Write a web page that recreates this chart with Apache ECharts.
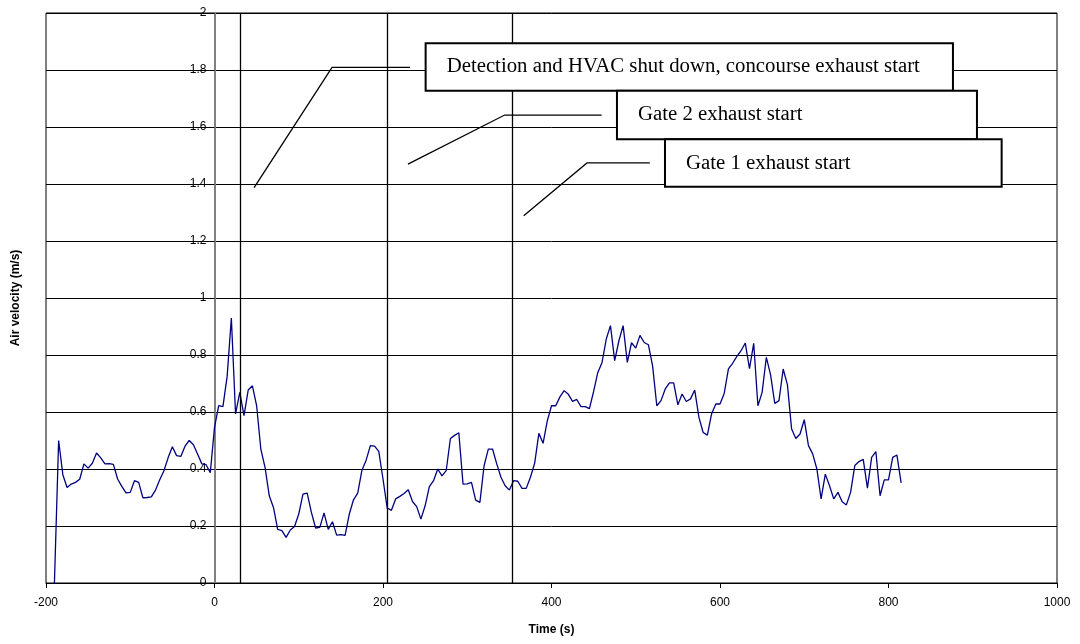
<!DOCTYPE html>
<html>
<head>
<meta charset="utf-8">
<title>Air velocity</title>
<script src="https://cdn.jsdelivr.net/npm/echarts@6/dist/echarts.min.js"></script>
<style>
  html, body { margin: 0; padding: 0; background: #fff; }
  #chart { width: 1080px; height: 644px; }
</style>
</head>
<body>
<div id="chart"></div>
<script>
// Measurement times (s), relative to the detection reference
const times = [
  -190, -185, -180, -175, -170, -165, -160, -155, -150, -145, -140, -135, -130, -125, -120, -115, -110, -105, -100, -95,
  -90, -85, -80, -75, -70, -65, -60, -55, -50, -45, -40, -35, -30, -25, -20, -15, -10, -5, 0, 5,
  10, 15, 20, 25, 30, 35, 40, 45, 50, 55, 60, 65, 70, 75, 80, 85, 90, 95, 100, 105,
  110, 115, 120, 125, 130, 135, 140, 145, 150, 155, 160, 165, 170, 175, 180, 185, 190, 195, 200, 205,
  210, 215, 220, 225, 230, 235, 240, 245, 250, 255, 260, 265, 270, 275, 280, 285, 290, 295, 300, 305,
  310, 315, 320, 325, 330, 335, 340, 345, 350, 355, 360, 365, 370, 375, 380, 385, 390, 395, 400, 405,
  410, 415, 420, 425, 430, 435, 440, 445, 450, 455, 460, 465, 470, 475, 480, 485, 490, 495, 500, 505,
  510, 515, 520, 525, 530, 535, 540, 545, 550, 555, 560, 565, 570, 575, 580, 585, 590, 595, 600, 605,
  610, 615, 620, 625, 630, 635, 640, 645, 650, 655, 660, 665, 670, 675, 680, 685, 690, 695, 700, 705,
  710, 715, 720, 725, 730, 735, 740, 745, 750, 755, 760, 765, 770, 775, 780, 785, 790, 795, 800, 805,
  810, 815
];

// Air velocity (m/s) at each time
const velocity = [
  0, 0.50, 0.38, 0.335, 0.347, 0.353, 0.364, 0.418, 0.403, 0.42, 0.456, 0.439, 0.418, 0.419, 0.416, 0.365, 0.339, 0.316, 0.318, 0.359,
  0.353, 0.299, 0.30, 0.302, 0.326, 0.362, 0.394, 0.44, 0.478, 0.447, 0.444, 0.48, 0.50, 0.485, 0.452, 0.418, 0.415, 0.387, 0.546, 0.622,
  0.619, 0.725, 0.93, 0.593, 0.669, 0.587, 0.677, 0.692, 0.622, 0.47, 0.406, 0.306, 0.265, 0.188, 0.184, 0.16, 0.186, 0.198, 0.242, 0.312,
  0.315, 0.248, 0.193, 0.195, 0.246, 0.188, 0.215, 0.168, 0.17, 0.167, 0.242, 0.292, 0.315, 0.396, 0.431, 0.482, 0.48, 0.462, 0.365, 0.263,
  0.255, 0.295, 0.304, 0.314, 0.327, 0.286, 0.268, 0.224, 0.271, 0.338, 0.359, 0.40, 0.376, 0.394, 0.507, 0.518, 0.527, 0.347, 0.348, 0.353,
  0.291, 0.283, 0.412, 0.47, 0.47, 0.418, 0.371, 0.341, 0.326, 0.359, 0.357, 0.332, 0.332, 0.371, 0.42, 0.525, 0.49, 0.569, 0.622, 0.622,
  0.653, 0.675, 0.662, 0.637, 0.644, 0.619, 0.619, 0.612, 0.672, 0.739, 0.774, 0.856, 0.903, 0.78, 0.85, 0.903, 0.774, 0.843, 0.824, 0.869,
  0.844, 0.836, 0.762, 0.622, 0.64, 0.681, 0.702, 0.702, 0.625, 0.663, 0.637, 0.646, 0.677, 0.581, 0.528, 0.519, 0.593, 0.628, 0.628, 0.665,
  0.751, 0.771, 0.795, 0.815, 0.842, 0.752, 0.841, 0.622, 0.669, 0.792, 0.731, 0.63, 0.64, 0.751, 0.696, 0.54, 0.507, 0.523, 0.573, 0.482,
  0.453, 0.40, 0.295, 0.382, 0.341, 0.295, 0.318, 0.285, 0.274, 0.318, 0.412, 0.426, 0.434, 0.333, 0.441, 0.461, 0.306, 0.362, 0.362, 0.441,
  0.449, 0.351
];

// Event times (s) marked with vertical lines
const eventTimes = [30, 205, 354];

// Event descriptions shown in the callout boxes
const eventLabels = [
  'Detection and HVAC shut down, concourse exhaust start',
  'Gate 2 exhaust start',
  'Gate 1 exhaust start'
];

// Axis ranges and tick steps
const xRange = [-200, 1000];
const xStep = 200;
const yRange = [0, 2];
const yStep = 0.2;

// Callout layout in axis units: leader polyline and box [left, right, top, bottom]
const calloutLayout = [
  { leader: [[47, 1.387], [139.5, 1.809], [232, 1.809]], box: [250.6, 876.5, 1.894, 1.727] },
  { leader: [[229.6, 1.470], [344.4, 1.642], [459.5, 1.642]], box: [477.7, 905, 1.727, 1.557] },
  { leader: [[367, 1.289], [442.1, 1.474], [516.7, 1.474]], box: [534.7, 934.3, 1.557, 1.390] }
];

const sansFont = '"Liberation Sans", Arial, sans-serif';
const serifFont = '"Liberation Serif", "Times New Roman", serif';
const gridLeft = 46;

const chart = echarts.init(document.getElementById('chart'), null, { renderer: 'canvas' });

const seriesData = times.map((t, i) => [t, velocity[i]]);

chart.setOption({
  animation: false,
  backgroundColor: '#ffffff',
  grid: {
    left: gridLeft, right: 23, top: 13, bottom: 61,
    show: true, borderColor: '#000', borderWidth: 1, backgroundColor: 'transparent'
  },
  xAxis: {
    type: 'value',
    min: xRange[0], max: xRange[1], interval: xStep,
    name: 'Time (s)',
    nameLocation: 'middle',
    nameGap: 41,
    nameTextStyle: { fontFamily: sansFont, fontSize: 12, fontWeight: 'bold', color: '#000' },
    axisLine: { onZero: false, lineStyle: { color: '#000', width: 1 } },
    axisTick: { show: true, inside: false, length: 5, lineStyle: { color: '#000' } },
    axisLabel: { fontFamily: sansFont, fontSize: 12, color: '#000', margin: 14, formatter: v => String(v) },
    splitLine: { show: false }
  },
  yAxis: {
    type: 'value',
    min: yRange[0], max: yRange[1], interval: yStep,
    axisLine: { show: true, onZero: false, lineStyle: { color: '#808080', width: 2 } },
    axisTick: { show: true, inside: false, length: 4, lineStyle: { color: '#000' } },
    axisLabel: {
      fontFamily: sansFont, fontSize: 12, color: '#000', margin: 8,
      formatter: v => String(+v.toFixed(1))
    },
    splitLine: { show: true, lineStyle: { color: '#000', width: 1 } }
  },
  series: [{
    type: 'line',
    data: seriesData,
    symbol: 'none',
    lineStyle: { color: '#000080', width: 1.3 },
    z: 3,
    markLine: {
      silent: true,
      symbol: ['none', 'none'],
      label: { show: false },
      lineStyle: { color: '#000', width: 1.3, type: 'solid' },
      data: eventTimes.map(t => ({ xAxis: t }))
    }
  }]
});

// Move the velocity axis (line, ticks and labels) onto time zero
const zeroX = chart.convertToPixel({ xAxisIndex: 0 }, 0);
chart.setOption({ yAxis: { offset: -(zeroX - gridLeft) } });

// Axis title for velocity, set beside the plot frame
const graphics = [{
  type: 'text',
  x: 16, y: 298,
  rotation: Math.PI / 2,
  style: {
    text: 'Air velocity (m/s)',
    font: 'bold 12px ' + sansFont,
    fill: '#000',
    align: 'center',
    verticalAlign: 'middle'
  },
  z: 10
}];

const toPx = p => chart.convertToPixel({ gridIndex: 0 }, p);

// Leader lines first so the boxes sit over them
calloutLayout.forEach(c => {
  graphics.push({
    type: 'polyline',
    shape: { points: c.leader.map(toPx) },
    style: { stroke: '#000', lineWidth: 1.3, fill: null },
    z: 10
  });
});

calloutLayout.forEach((c, i) => {
  const tl = toPx([c.box[0], c.box[2]]);
  const br = toPx([c.box[1], c.box[3]]);
  graphics.push({
    type: 'rect',
    shape: { x: tl[0], y: tl[1], width: br[0] - tl[0], height: br[1] - tl[1] },
    style: { fill: '#fff', stroke: '#000', lineWidth: 2 },
    z: 11 + i
  });
  graphics.push({
    type: 'text',
    x: tl[0] + 21,
    y: (tl[1] + br[1]) / 2,
    style: {
      text: eventLabels[i],
      font: '20.8px ' + serifFont,
      fill: '#000',
      align: 'left',
      verticalAlign: 'middle'
    },
    z: 11 + i
  });
});

chart.setOption({ graphic: graphics });
</script>
</body>
</html>
